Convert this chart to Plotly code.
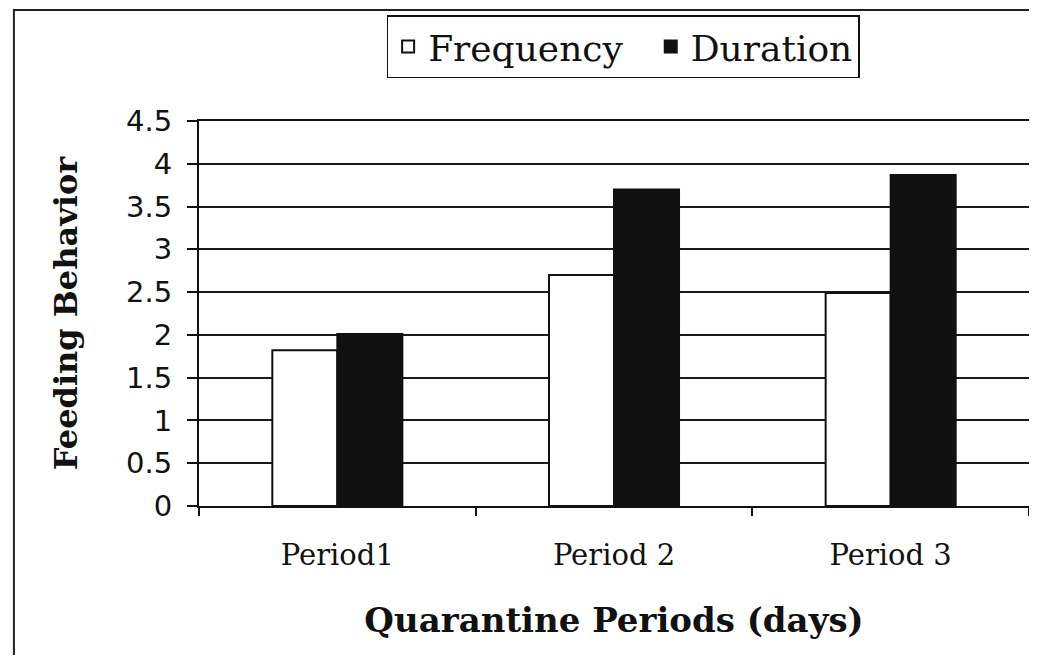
import plotly.graph_objects as go

categories = ["Period1", "Period 2", "Period 3"]
frequency = [1.82, 2.70, 2.49]
duration = [2.01, 3.70, 3.87]
series_names = ["Frequency", "Duration"]
y_ticks = [0, 0.5, 1, 1.5, 2, 2.5, 3, 3.5, 4, 4.5]
y_tick_labels = ["0", "0.5", "1", "1.5", "2", "2.5", "3", "3.5", "4", "4.5"]

SERIF = "DejaVu Serif"

fig = go.Figure()
fig.add_trace(go.Bar(
    name=series_names[0] + "\u00a0\u00a0", x=categories, y=frequency,
    marker=dict(color="white", line=dict(color="#111", width=2)),
))
fig.add_trace(go.Bar(
    name=series_names[1], x=categories, y=duration,
    marker=dict(color="#111", line=dict(color="#111", width=2)),
))

fig.update_layout(
    width=1021, height=647,
    paper_bgcolor="white", plot_bgcolor="white",
    margin=dict(l=191, r=0, t=113, b=149, autoexpand=False),
    barmode="group", bargap=0.53, bargroupgap=0,
    showlegend=True,
    legend=dict(
        orientation="h", x=0.511, y=1.275, xanchor="center", yanchor="top",
        bordercolor="#111", borderwidth=1.5, bgcolor="white",
        font=dict(family=SERIF, size=36, color="#111"),
        itemwidth=30, traceorder="normal",
    ),
    xaxis=dict(
        automargin=False,
        showline=True, linecolor="#111", linewidth=2, mirror=True,
        ticks="outside", tickson="boundaries", ticklen=8, tickcolor="#111", tickwidth=1.5,
        tickfont=dict(family=SERIF, size=29, color="#111"),
        ticklabelstandoff=22,
        title=dict(text="<b>Quarantine Periods (days)</b>",
                   font=dict(family=SERIF, size=34, color="#111"), standoff=37),
        showgrid=False,
    ),
    yaxis=dict(
        automargin=False,
        range=[0, 4.5], tickvals=y_ticks, ticktext=y_tick_labels,
        showline=True, linecolor="#111", linewidth=2, mirror=True,
        ticks="outside", ticklen=10, tickcolor="#111", tickwidth=1.5,
        ticklabelstandoff=9,
        tickfont=dict(family="DejaVu Sans", size=29, color="#111"),
        showgrid=True, gridcolor="#1a1a1a", gridwidth=1.5,
        zeroline=False,
        title=dict(text="<b>Feeding Behavior</b>",
                   font=dict(family=SERIF, size=32, color="#111"), standoff=39),
    ),
    shapes=[dict(
        type="rect", xref="paper", yref="paper",
        x0=-0.223, x1=1.1, y0=-0.5, y1=1.288,
        line=dict(color="#222", width=2), fillcolor="rgba(0,0,0,0)", layer="below",
    )],
)

fig.write_html("out.html")
